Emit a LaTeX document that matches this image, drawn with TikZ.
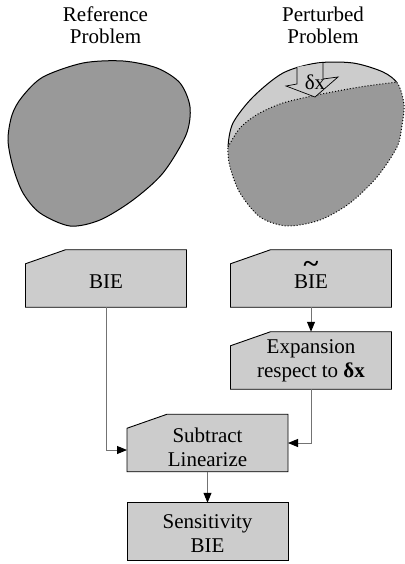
\documentclass[tikz,border=0pt]{standalone}
\usepackage{fontspec}
\usepackage{graphicx}
\setmainfont{Liberation Serif}
\usetikzlibrary{arrows.meta,calc,backgrounds}
\definecolor{lightfill}{gray}{0.8}
\definecolor{darkfill}{gray}{0.6}
\begin{document}
\begin{tikzpicture}[x=1pt,y=-1pt,
  box/.style={minimum width=161pt,minimum height=57.5pt,inner sep=0pt,outer sep=0pt},
  txt/.style={inner sep=0pt,align=center,font=\fontsize{21}{24}\selectfont},
  ttl/.style={inner sep=0pt,align=center,font=\fontsize{21}{21.7}\selectfont},
  boxshape/.style={fill=lightfill,draw=black,line width=0.9pt},
  conn/.style={draw=black!55,line width=0.9pt,-{Triangle[length=10pt,width=8pt,color=black]}},
  outl/.style={draw=black,line width=1pt},
  dots/.style={draw=black,line width=1pt,dash pattern=on 1pt off 2pt}
]
\useasboundingbox (0,0) rectangle (404,564);

% titles
\node[ttl] (t1) at (105.5,25.4) {Reference\\Problem};
\node[ttl] (t2) at (323,25.4) {Perturbed\\Problem};

% left blob (reference domain)
\filldraw[fill=darkfill,outl] plot[smooth cycle] coordinates {(123,61) (157,68) (180,83) (190,107) (186,135) (163,173) (133,200) (100,220) (70,226) (40,213) (23,193) (13,167) (8,140) (12,115) (22,97) (43,77) (83,63)};

% right blob (perturbed domain)
\def\rblob{plot[smooth cycle] coordinates {(228,147) (233,123) (253,97) (283,73) (317,63) (353,63) (383,72) (398,84) (404,105) (402,125) (397,147) (377,177) (350,203) (320,220) (287,226) (260,217) (240,193) (230,167)}}
\def\dcurve{plot[smooth] coordinates {(228,147) (240,128) (258,114) (283,103) (317,95) (360,87) (398,82) (414,81)}}
\fill[lightfill] \rblob;
\begin{scope}
  \clip \rblob;
  \fill[darkfill] \dcurve -- (420,81) -- (420,240) -- (215,240) -- (215,147) -- cycle;
  \draw[dots] \dcurve;
\end{scope}
\begin{scope}
  \clip \dcurve -- (420,81) -- (420,240) -- (215,240) -- (215,147) -- cycle;
  \draw[dots] \rblob;
\end{scope}
\begin{scope}
  \clip \dcurve -- (420,81) -- (420,0) -- (215,0) -- (215,147) -- cycle;
  \draw[outl] \rblob;
\end{scope}

% delta x block arrow
\filldraw[fill=lightfill,draw=black,line width=0.7pt] (297,67) -- (297,84) -- (286,86) -- (315,97) -- (338,77) -- (323,79) -- (323,63);
\node[ttl] (dx) at (315,82) {δx};

% boxes
\node[box] (bie)  at (106,278.5) {};
\node[box] (biet) at (311,278.5) {};
\node[box] (exp)  at (311,360.5) {};
\node[box] (sub)  at (207.5,443) {};
\node[box] (sens) at (207.5,531.5) {};

\begin{scope}[on background layer]
  \foreach \n in {bie,biet,exp,sub}{
    \filldraw[boxshape] ($(\n.north west)+(0,14)$) -- ($(\n.north west)+(40,0)$) -- (\n.north east) -- (\n.south east) -- (\n.south west) -- cycle;
  }
  \filldraw[boxshape] (sens.north west) rectangle (sens.south east);
\end{scope}

% box texts
\node[txt] (bieT)  at (106,282) {BIE};
\node[txt] (bietT) at (311,282) {\ooalign{BIE\cr\hidewidth\smash{\raisebox{16pt}{\scalebox{1.35}[1.25]{\textbf{\textasciitilde}}}}\hidewidth\cr}};
\node[txt] (expT)  at (311,360.5) {Expansion\\respect to \textbf{δx}};
\node[txt] (subT)  at (207.5,447) {Subtract\\Linearize};
\node[txt] (sensT) at (207.5,533.8) {Sensitivity\\BIE};

% connectors
\draw[conn] (bie.south) |- ([yshift=-7pt]sub.west);
\draw[conn] (biet.south) -- (exp.north);
\draw[conn] (exp.south) |- (sub.east);
\draw[conn] (sub.south) -- (sens.north);
\end{tikzpicture}
\end{document}
